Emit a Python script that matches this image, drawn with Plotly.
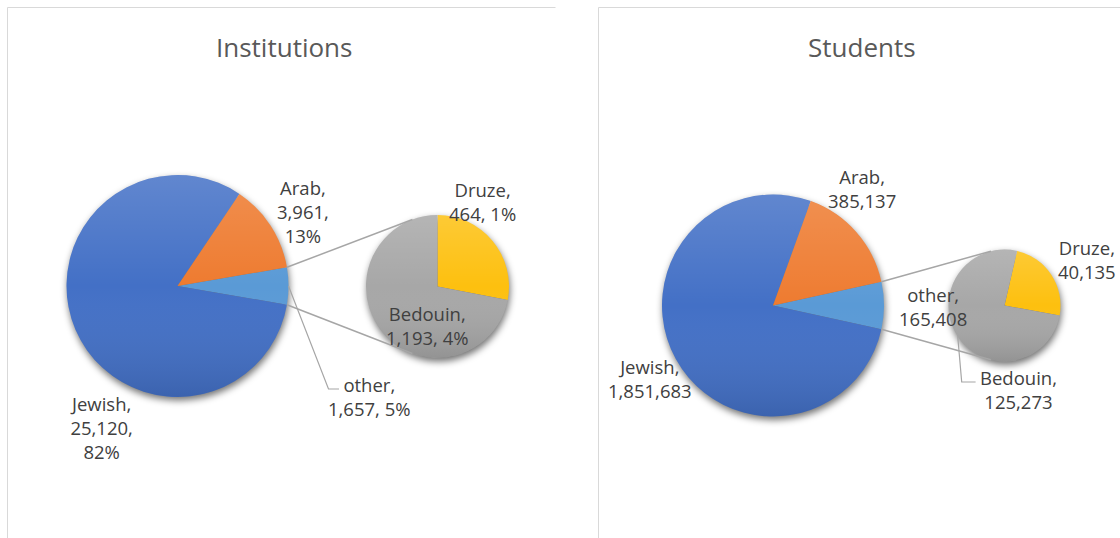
import math
import urllib.parse
import plotly.graph_objects as go

# ---- data -------------------------------------------------------------
main_groups = ["other", "Jewish", "Arab"]
inst_main = [1657, 25120, 3961]
stud_main = [165408, 1851683, 385137]

split_groups = ["Druze", "Bedouin"]
inst_split = [464, 1193]
stud_split = [40135, 125273]

# percentage shares as printed in the Institutions labels
inst_pct = {"Jewish": "82%", "Arab": "13%", "other": "5%", "Bedouin": "4%", "Druze": "1%"}

titles = ["Institutions", "Students"]

# ---- canvas / style ---------------------------------------------------
W, H = 1120, 538
colors_main = {"Jewish": "#4370C6", "Arab": "#EE7B30", "other": "#5A9AD6"}
colors_split = {"Druze": "#FDC00F", "Bedouin": "#A7A7A7"}
LABEL_FONT = dict(family="Open Sans, Noto Sans, sans-serif", size=18.5, color="#404040")
TITLE_FONT = dict(family="Open Sans, Noto Sans, sans-serif", size=26, color="#595959")
CONNECTOR = "#A6A6A6"
FRAME = "#D9D9D9"

# pixel geometry of each panel: main pie, split pie, connector end angle
panels = [
    dict(main=(177.5, 286.0, 111.0), split=(437.5, 286.5, 71.5), split_rot=0,
         conn_deg=110.5, title_xy=(283.5, 46.5),
         frame=[(7.5, 560), (7.5, 7.5), (555.5, 7.5)]),
    dict(main=(773.0, 305.5, 111.0), split=(1004.5, 305.5, 56.0), split_rot=13,
         conn_deg=104.0, title_xy=(861.5, 47.0),
         frame=[(598.5, 560), (598.5, 7.5), (1130, 7.5)]),
]

# label anchor points (block centres, pixels)
label_pos = [
    {"Jewish": (101.6, 427.5), "Arab": (302.6, 211.5), "other": (369.7, 396.0),
     "Bedouin": (427.0, 325.0), "Druze": (482.8, 201.8)},
    {"Jewish": (649.7, 378.4), "Arab": (861.5, 188.2), "other": (933.3, 306.5),
     "Bedouin": (1018.7, 389.5), "Druze": (1087.0, 259.1)},
]
# elbow points of leader lines (pixels)
leaders = [
    {"other": [(328.5, 389.0), (339.0, 389.0)]},
    {"Bedouin": [(961.7, 382.0), (975.6, 382.0)]},
]


def px(x):
    return x / W


def py(y):
    return 1 - y / H


def domain(cx, cy, r):
    return dict(x=[px(cx - r), px(cx + r)], y=[py(cy + r), py(cy - r)])


def svg_uri(svg):
    return "data:image/svg+xml;charset=utf-8," + urllib.parse.quote(svg)


def shadow_image(cx, cy, r):
    pad = 24
    size = 2 * r + 2 * pad
    svg = (
        f'<svg xmlns="http://www.w3.org/2000/svg" width="{size}" height="{size}">'
        f'<defs><filter id="b" x="-50%" y="-50%" width="200%" height="200%">'
        f'<feGaussianBlur stdDeviation="3.5"/></filter></defs>'
        f'<circle cx="{size/2}" cy="{size/2}" r="{r}" fill="#000" fill-opacity="0.55" filter="url(#b)"/>'
        f'</svg>'
    )
    return dict(source=svg_uri(svg), xref="paper", yref="paper",
                x=px(cx - size / 2 + 1), y=py(cy - size / 2 + 3.5),
                sizex=size / W, sizey=size / H, xanchor="left", yanchor="top",
                sizing="stretch", layer="below")


def sheen_image(cx, cy, r):
    size = 2 * r
    svg = (
        f'<svg xmlns="http://www.w3.org/2000/svg" width="{size}" height="{size}">'
        f'<defs><linearGradient id="g" x1="0" y1="0" x2="0" y2="1">'
        f'<stop offset="0" stop-color="#fff" stop-opacity="0.16"/>'
        f'<stop offset="0.5" stop-color="#fff" stop-opacity="0"/>'
        f'<stop offset="1" stop-color="#000" stop-opacity="0.12"/>'
        f'</linearGradient></defs>'
        f'<circle cx="{r}" cy="{r}" r="{r}" fill="url(#g)"/></svg>'
    )
    return dict(source=svg_uri(svg), xref="paper", yref="paper",
                x=px(cx - r), y=py(cy - r), sizex=size / W, sizey=size / H,
                xanchor="left", yanchor="top", sizing="stretch", layer="above")


def fmt(v):
    return f"{v:,}"


fig = go.Figure()
shapes, annotations, images = [], [], []

datasets = [(inst_main, inst_split, True), (stud_main, stud_split, False)]

for k, (panel, (mvals, svals, with_pct)) in enumerate(zip(panels, datasets)):
    mcx, mcy, mr = panel["main"]
    scx, scy, sr = panel["split"]

    # main pie: the combined "other" slice is centred on 3 o'clock
    total = sum(mvals)
    other_deg = mvals[0] / total * 360
    rot_main = 90 - other_deg / 2
    fig.add_trace(go.Pie(
        labels=main_groups, values=mvals, sort=False, direction="clockwise",
        rotation=rot_main, textinfo="none", hoverinfo="label+value+percent",
        marker=dict(colors=[colors_main[g] for g in main_groups], line=dict(width=0)),
        domain=domain(mcx, mcy, mr), showlegend=False,
    ))
    # split pie with the components of "other"
    fig.add_trace(go.Pie(
        labels=split_groups, values=svals, sort=False, direction="clockwise",
        rotation=panel["split_rot"], textinfo="none", hoverinfo="label+value",
        marker=dict(colors=[colors_split[g] for g in split_groups], line=dict(width=0)),
        domain=domain(scx, scy, sr), showlegend=False,
    ))

    for (cx, cy, r) in (panel["main"], panel["split"]):
        images.append(shadow_image(cx, cy, r))
        images.append(sheen_image(cx, cy, r))

    # connector lines from the "other" slice edges to the split pie
    half = math.radians(other_deg / 2)
    ca = math.radians(panel["conn_deg"])
    for sgn in (1, -1):
        x0 = mcx + mr * math.cos(half)
        y0 = mcy - sgn * mr * math.sin(half)
        x1 = scx + sr * math.cos(ca)
        y1 = scy - sgn * sr * math.sin(ca)
        shapes.append(dict(type="line", xref="paper", yref="paper",
                           x0=px(x0), y0=py(y0), x1=px(x1), y1=py(y1),
                           line=dict(color=CONNECTOR, width=1.5), layer="above"))

    # data labels
    values = dict(zip(main_groups, mvals))
    values.update(dict(zip(split_groups, svals)))
    for g, (lx, ly) in label_pos[k].items():
        if with_pct:
            if g in ("Jewish", "Arab"):
                txt = f"{g},<br>{fmt(values[g])},<br>{inst_pct[g]}"
            else:
                txt = f"{g},<br>{fmt(values[g])}, {inst_pct[g]}"
        else:
            txt = f"{g},<br>{fmt(values[g])}"
        annotations.append(dict(text=txt, x=px(lx), y=py(ly), xref="paper", yref="paper",
                                xanchor="center", yanchor="middle", showarrow=False,
                                align="center", font=LABEL_FONT))

    # leader lines
    for g, pts in leaders[k].items():
        if g in main_groups:
            cx, cy, r = panel["main"]
            i = main_groups.index(g)
            vals, rot = mvals, rot_main
        else:
            cx, cy, r = panel["split"]
            i = split_groups.index(g)
            vals, rot = svals, panel["split_rot"]
        tot = sum(vals)
        mid = rot + (sum(vals[:i]) + vals[i] / 2) / tot * 360
        sx = cx + r * math.sin(math.radians(mid))
        sy = cy - r * math.cos(math.radians(mid))
        path = f"M {px(sx)},{py(sy)}" + "".join(f" L {px(x)},{py(y)}" for x, y in pts)
        shapes.append(dict(type="path", xref="paper", yref="paper", path=path,
                           line=dict(color=CONNECTOR, width=1.2), layer="above"))

    # title
    tx, ty = panel["title_xy"]
    annotations.append(dict(text=titles[k], x=px(tx), y=py(ty), xref="paper", yref="paper",
                            xanchor="center", yanchor="middle", showarrow=False,
                            font=TITLE_FONT))

    # chart area frame (left and top edges)
    fpts = panel["frame"]
    fpath = f"M {px(fpts[0][0])},{py(fpts[0][1])}" + "".join(
        f" L {px(x)},{py(y)}" for x, y in fpts[1:])
    shapes.append(dict(type="path", xref="paper", yref="paper", path=fpath,
                       line=dict(color=FRAME, width=1), layer="below"))

fig.update_layout(
    width=W, height=H, margin=dict(l=0, r=0, t=0, b=0),
    paper_bgcolor="white", plot_bgcolor="white",
    shapes=shapes, annotations=annotations, images=images,
)

fig.write_html("out.html")
